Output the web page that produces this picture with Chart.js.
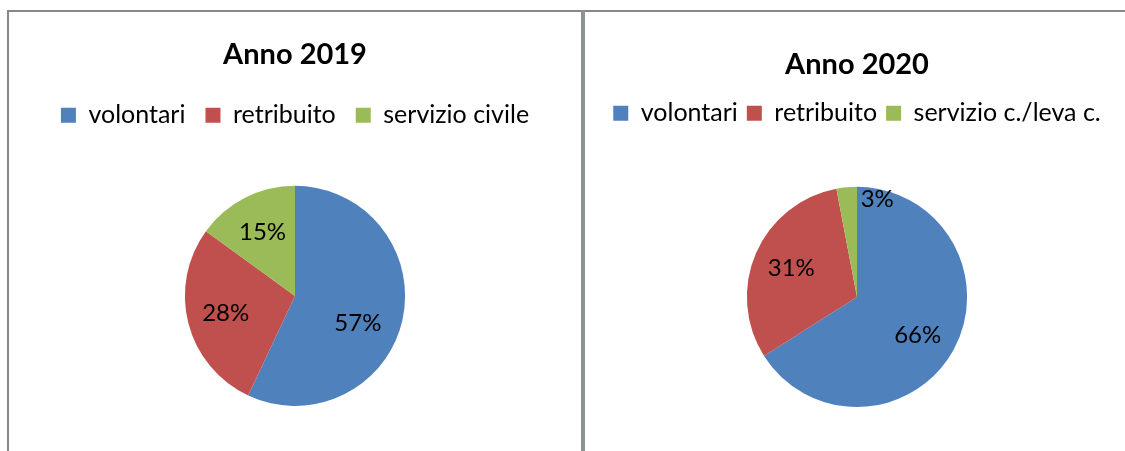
<!DOCTYPE html>
<html>
<head>
<meta charset="utf-8">
<script src="https://cdn.jsdelivr.net/npm/chart.js"></script>
<style>
  html, body { margin: 0; padding: 0; background: #fff; overflow: hidden; }
  body { width: 1125px; height: 451px; position: relative; }
  .line { position: absolute; background: #878787; }
  canvas { position: absolute; }
</style>
</head>
<body>
<div class="line" style="left:7px; top:10px; width:1118px; height:2px;"></div>
<div class="line" style="left:7px; top:10px; width:2px; height:441px;"></div>
<div class="line" style="left:581px; top:10px; width:4px; height:441px; background:#8a9494;"></div>
<canvas id="chart2019" width="572" height="439" style="left:9px; top:12px;"></canvas>
<canvas id="chart2020" width="540" height="439" style="left:585px; top:12px;"></canvas>
<script>
// data (percent)
var labels2019 = ['volontari', 'retribuito', 'servizio civile'];
var values2019 = [57, 28, 15];
var labels2020 = ['volontari', 'retribuito', 'servizio c./leva c.'];
var values2020 = [66, 31, 3];
var sliceColors = ['#4F81BD', '#C0504D', '#9BBB59'];

var FONT = "Lato, 'Open Sans', sans-serif";
Chart.defaults.font.family = FONT;
Chart.defaults.color = '#000';

// adds some room under the legend, before the pie
var legendGap = {
  id: 'legendGap',
  afterInit: function(chart, args, opts) {
    var legend = chart.legend;
    var fit = legend.fit;
    legend.fit = function() {
      fit.call(legend);
      this.height += opts.extra || 0;
    };
  }
};

// percent labels inside the slices
var pctLabels = {
  id: 'pctLabels',
  afterDatasetsDraw: function(chart, args, opts) {
    var ctx = chart.ctx;
    var meta = chart.getDatasetMeta(0);
    var data = chart.data.datasets[0].data;
    var total = data.reduce(function(a, b) { return a + b; }, 0);
    ctx.save();
    ctx.font = opts.size + 'px ' + FONT;
    ctx.fillStyle = '#000';
    ctx.textAlign = 'center';
    ctx.textBaseline = 'middle';
    meta.data.forEach(function(arc, i) {
      var mid = (arc.startAngle + arc.endAngle) / 2;
      var r = arc.outerRadius * 0.65;
      var nudge = (opts.nudge && opts.nudge[i]) || [0, 0];
      var x = arc.x + Math.cos(mid) * r + nudge[0];
      var y = arc.y + Math.sin(mid) * r + nudge[1];
      ctx.fillText(Math.round(data[i] / total * 100) + '%', x, y);
    });
    ctx.restore();
  }
};

function makePie(id, title, labels, values, cfg) {
  return new Chart(document.getElementById(id), {
    type: 'pie',
    data: {
      labels: labels,
      datasets: [{
        data: values,
        backgroundColor: sliceColors,
        borderWidth: 0
      }]
    },
    options: {
      responsive: false,
      animation: false,
      events: [],
      layout: { padding: { left: cfg.padLeft, right: 0, top: 0, bottom: cfg.padBottom } },
      plugins: {
        title: {
          display: true,
          text: title,
          color: '#000',
          font: { size: 29, weight: 'bold' },
          padding: { top: cfg.titleTop, bottom: cfg.titleBottom }
        },
        legend: {
          position: 'top',
          labels: {
            boxWidth: 15,
            boxHeight: 15,
            padding: cfg.legendPad,
            color: '#000',
            font: { size: 25 }
          }
        },
        legendGap: { extra: cfg.gap },
        pctLabels: { size: 24, nudge: cfg.nudge },
        tooltip: { enabled: false }
      }
    },
    plugins: [legendGap, pctLabels]
  });
}

makePie('chart2019', 'Anno 2019', labels2019, values2019, {
  padLeft: 0, padBottom: 45, titleTop: 25, titleBottom: 11, legendPad: 20, gap: 48,
  nudge: [[-7, 12], [0, 0], [0, 0]]
});

makePie('chart2020', 'Anno 2020', labels2020, values2020, {
  padLeft: 4, padBottom: 44, titleTop: 35, titleBottom: 10, legendPad: 9, gap: 51,
  nudge: [[-2, 4], [0, 0], [27, -26]]
});
</script>
</body>
</html>
